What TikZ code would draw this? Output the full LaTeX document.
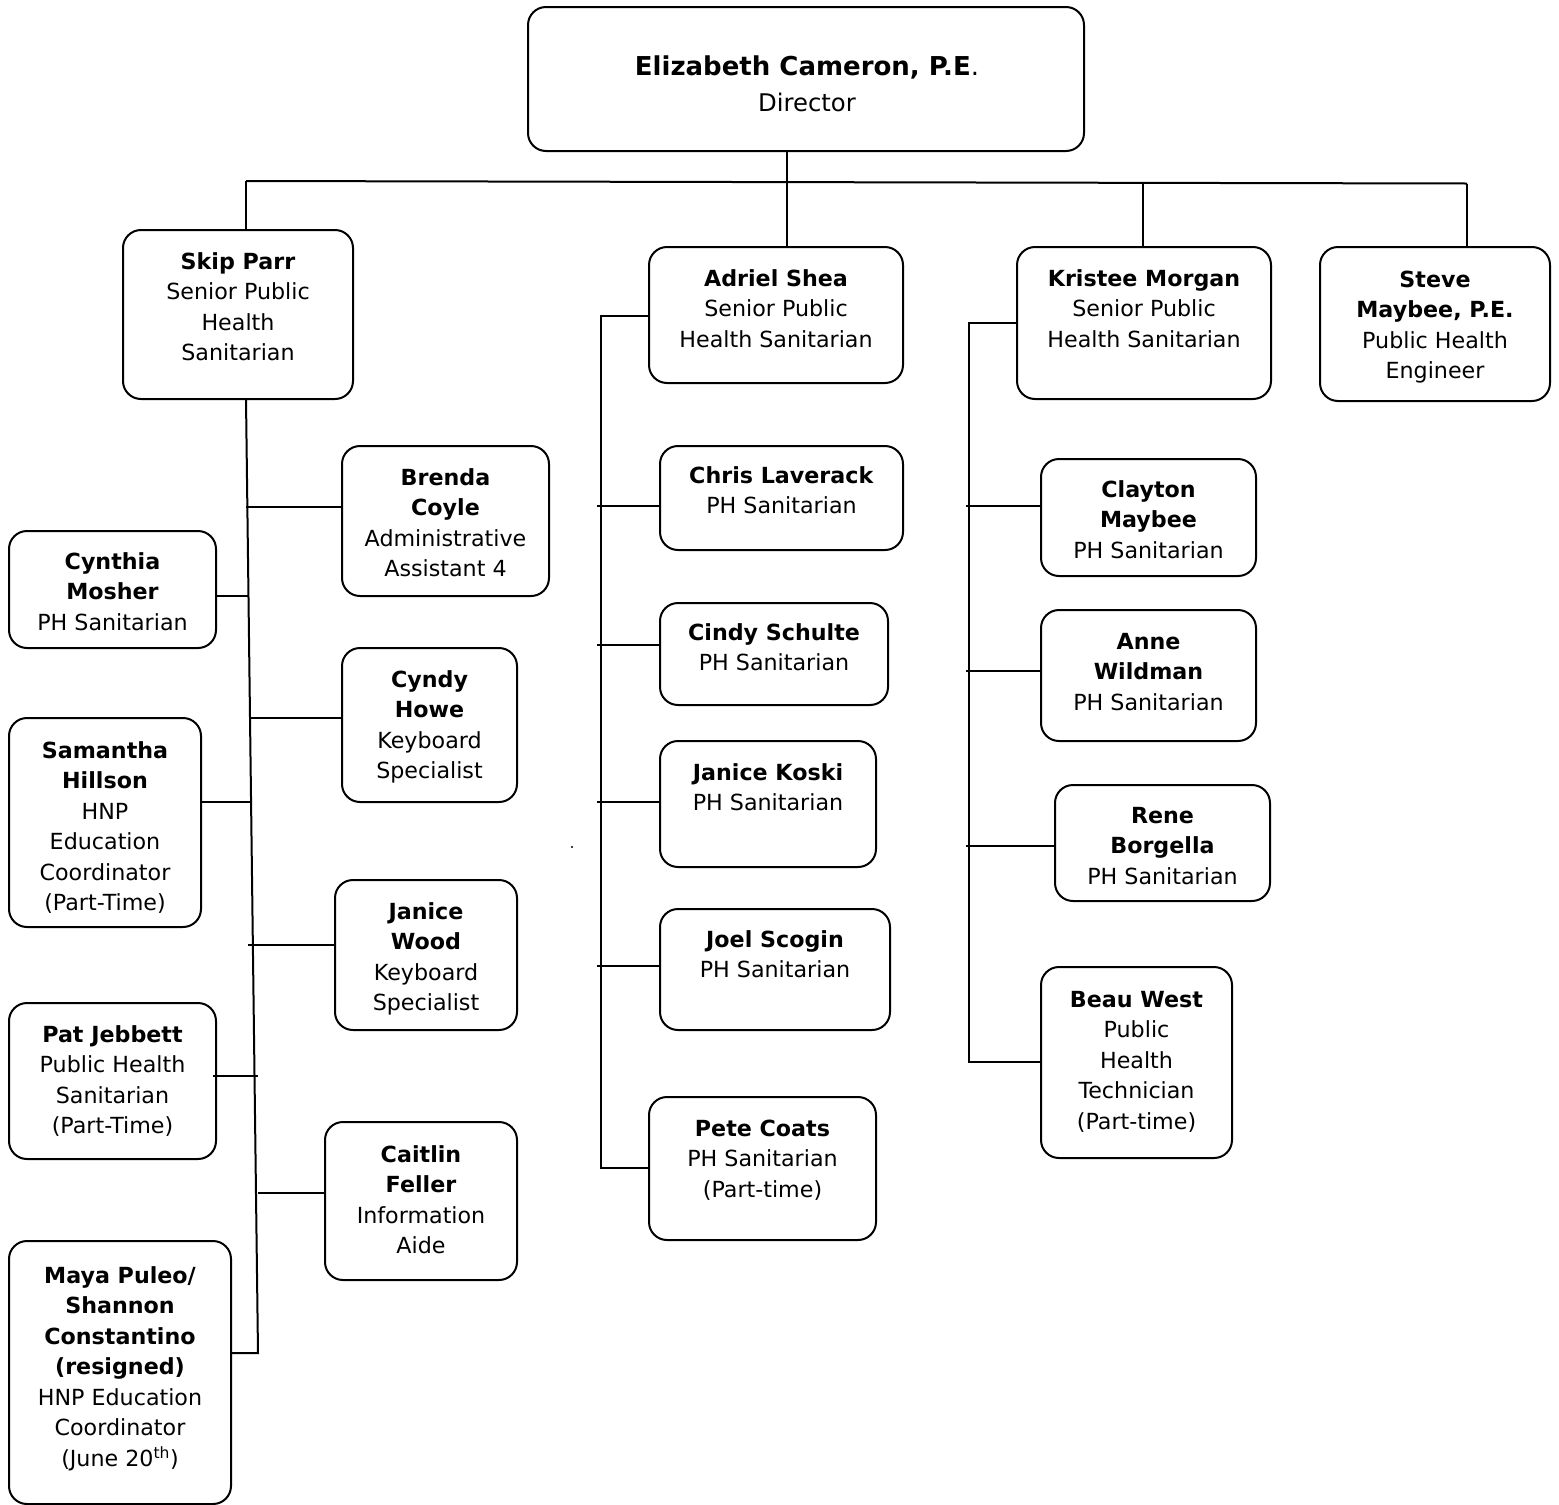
\documentclass[tikz,border=0pt]{standalone}
\usepackage{fontspec}
\setmainfont{DejaVu Sans}
\newcommand\orgbox[7]{%
  \node[box, minimum width={(#4-#2)*1pt}, minimum height={(#5-#3)*1pt}] (#1) at ({(#2+#4)/2},{(#3+#5)/2}) {};
  \node[lbl] (#1t) at ({(#2+#4)/2},{#6+8}) {\begin{tabular}[t]{@{}c@{}}#7\end{tabular}};
}
\begin{document}
\begin{tikzpicture}[x=1pt,y=-1pt,
  box/.style={draw, line width=2pt, rounded corners=18pt, inner sep=0pt, fill=white},
  lbl/.style={anchor=base, inner sep=0pt, font=\fontsize{22.2}{30.5}\selectfont},
  ln/.style={line width=2pt}]
\fill[white] (0,0) rectangle (1559,1505);
\useasboundingbox (0,0) rectangle (1559,1505);

% connectors first (boxes drawn on top)
\coordinate (topL) at (246,181);
\coordinate (topR) at (1467,183.5);
\coordinate (ed) at (787,151);
\coordinate (kd) at (1143,182.5);

% Skip column trunk
\coordinate (sb) at (246,399);
\coordinate (se) at (258,1353);
\coordinate (s1) at (246,507);
\coordinate (s2) at (248.5,596);
\coordinate (s3) at (248.5,718);
\coordinate (s4) at (251.1,802);
\coordinate (s5) at (248,945);
\coordinate (s6) at (258,1076);
\coordinate (s7) at (258,1193);

% Adriel column trunk
\coordinate (at) at (601,316);
\coordinate (ab) at (601,1168);
\coordinate (a1) at (597,506);
\coordinate (a2) at (597,645);
\coordinate (a3) at (597,802);
\coordinate (a4) at (597,966);

% Kristee column trunk
\coordinate (kt) at (969,323);
\coordinate (kb) at (969,1062);
\coordinate (k1) at (966,506);
\coordinate (k2) at (966,671);
\coordinate (k3) at (966,846);

% boxes
\node[box, minimum width=556pt, minimum height=144pt] (eliz) at (806,79) {};
\node[anchor=base, inner sep=0pt, font=\fontsize{26}{36}\selectfont] (elizt) at (807,75) {\begin{tabular}[t]{@{}c@{}}\textbf{Elizabeth Cameron, P.E}.\\\fontsize{24.3}{36}\selectfont Director\end{tabular}};
\orgbox{skip}{123}{230}{353}{399}{261}{\textbf{Skip Parr}\\Senior Public\\Health\\Sanitarian}
\orgbox{adriel}{649}{247}{903}{383}{278}{\textbf{Adriel Shea}\\Senior Public\\Health Sanitarian}
\orgbox{kristee}{1017}{247}{1271}{399}{278}{\textbf{Kristee Morgan}\\Senior Public\\Health Sanitarian}
\orgbox{steve}{1320}{247}{1550}{401}{279}{\textbf{Steve}\\\textbf{Maybee, P.E.}\\Public Health\\Engineer}
\orgbox{brenda}{342}{446}{549}{596}{477}{\textbf{Brenda}\\\textbf{Coyle}\\Administrative\\Assistant 4}
\orgbox{cynthia}{9}{531}{216}{648}{561}{\textbf{Cynthia}\\\textbf{Mosher}\\PH Sanitarian}
\orgbox{cyndy}{342}{648}{517}{802}{679}{\textbf{Cyndy}\\\textbf{Howe}\\Keyboard\\Specialist}
\orgbox{samantha}{9}{718}{201}{927}{750}{\textbf{Samantha}\\\textbf{Hillson}\\HNP\\Education\\Coordinator\\(Part-Time)}
\orgbox{jwood}{335}{880}{517}{1030}{911}{\textbf{Janice}\\\textbf{Wood}\\Keyboard\\Specialist}
\orgbox{pat}{9}{1003}{216}{1159}{1034}{\textbf{Pat Jebbett}\\Public Health\\Sanitarian\\(Part-Time)}
\orgbox{caitlin}{325}{1122}{517}{1280}{1154}{\textbf{Caitlin}\\\textbf{Feller}\\Information\\Aide}
\orgbox{maya}{9}{1241}{231}{1504}{1275}{\textbf{Maya Puleo/}\\\textbf{Shannon}\\\textbf{Constantino}\\\textbf{(resigned)}\\HNP Education\\Coordinator\\(June 20\textsuperscript{th})}
\orgbox{chris}{660}{446}{903}{550}{475}{\textbf{Chris Laverack}\\PH Sanitarian}
\orgbox{cindy}{660}{603}{888}{705}{632}{\textbf{Cindy Schulte}\\PH Sanitarian}
\orgbox{jkoski}{660}{741}{876}{867}{772}{\textbf{Janice Koski}\\PH Sanitarian}
\orgbox{joel}{660}{909}{890}{1030}{939}{\textbf{Joel Scogin}\\PH Sanitarian}
\orgbox{pete}{649}{1097}{876}{1240}{1128}{\textbf{Pete Coats}\\PH Sanitarian\\(Part-time)}
\orgbox{clayton}{1041}{459}{1256}{576}{489}{\textbf{Clayton}\\\textbf{Maybee}\\PH Sanitarian}
\orgbox{anne}{1041}{610}{1256}{741}{641}{\textbf{Anne}\\\textbf{Wildman}\\PH Sanitarian}
\orgbox{rene}{1055}{785}{1270}{901}{815}{\textbf{Rene}\\\textbf{Borgella}\\PH Sanitarian}
\orgbox{beau}{1041}{967}{1232}{1158}{999}{\textbf{Beau West}\\Public\\Health\\Technician\\(Part-time)}

% top connectors
\draw[ln] (topL) -- (topR);
\draw[ln] (ed) -- (ed |- adriel.north);
\draw[ln] (topL) -- (topL |- skip.north);
\draw[ln] (kd) -- (kd |- kristee.north);
\draw[ln] (topR) -- (topR |- steve.north);

% Skip column
\draw[ln] (sb) -- (se) -- (maya.east |- se);
\draw[ln] (s1) -- (brenda.west |- s1);
\draw[ln] (cynthia.east |- s2) -- (s2);
\draw[ln] (s3) -- (cyndy.west |- s3);
\draw[ln] (samantha.east |- s4) -- (s4);
\draw[ln] (s5) -- (jwood.west |- s5);
\draw[ln] ([xshift=-4pt]pat.east |- s6) -- (s6);
\draw[ln] (s7) -- (caitlin.west |- s7);

% Adriel column
\draw[ln] (adriel.west |- at) -- (at) -- (ab) -- (pete.west |- ab);
\draw[ln] (a1) -- (chris.west |- a1);
\draw[ln] (a2) -- (cindy.west |- a2);
\draw[ln] (a3) -- (jkoski.west |- a3);
\draw[ln] (a4) -- (joel.west |- a4);

% Kristee column
\draw[ln] (kristee.west |- kt) -- (kt) -- (kb) -- (beau.west |- kb);
\draw[ln] (k1) -- (clayton.west |- k1);
\draw[ln] (k2) -- (anne.west |- k2);
\draw[ln] (k3) -- (rene.west |- k3);

% stray dot
\fill (572,847) circle (1.2pt);
\end{tikzpicture}
\end{document}
